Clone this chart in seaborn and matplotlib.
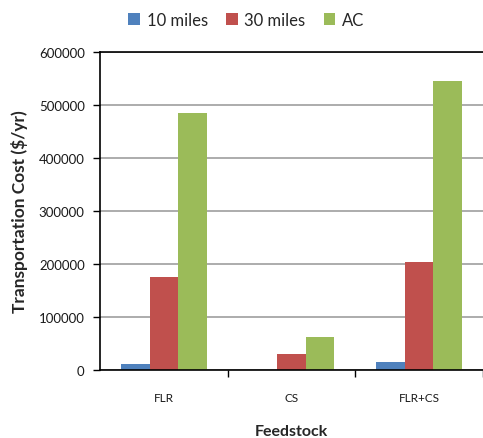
import matplotlib
matplotlib.use("Agg")
import matplotlib.pyplot as plt
from matplotlib.patches import Patch
import seaborn as sns
import pandas as pd

# Annual transportation cost by feedstock and haul scenario
feedstocks = ["FLR", "CS", "FLR+CS"]
series = ["10 miles", "30 miles", "AC"]
cost_10_miles = [11000, 0, 15000]
cost_30_miles = [175000, 31000, 204000]
cost_ac = [485000, 63000, 545000]
colors = ["#4f81bd", "#c0504d", "#9bbb59"]
y_ticks = [0, 100000, 200000, 300000, 400000, 500000, 600000]

rows = []
for name, vals in zip(series, [cost_10_miles, cost_30_miles, cost_ac]):
    for f, v in zip(feedstocks, vals):
        rows.append({"Feedstock": f, "Scenario": name, "Cost": v})
df = pd.DataFrame(rows)

sns.set_theme(style="white")
plt.rcParams["font.family"] = ["Lato", "DejaVu Sans"]

fig = plt.figure(figsize=(4.83, 4.39), dpi=100)
ax = fig.add_axes([100 / 483, 1 - 371 / 439, 1 - 100 / 483, (371 - 53) / 439])

sns.barplot(data=df, x="Feedstock", y="Cost", hue="Scenario", order=feedstocks,
            hue_order=series, palette=colors, saturation=1, width=0.67,
            linewidth=0, errorbar=None, legend=False, ax=ax)

ax.set_ylim(0, 600000)
ax.set_xlim(-0.5, 2.5)
ax.set_yticks(y_ticks)
ax.set_yticklabels([str(t) for t in y_ticks], fontsize=9.5, color="#1a1a1a")
ax.yaxis.grid(True, color="#a6a6a6", linewidth=1.3)
ax.set_axisbelow(True)

ax.set_xticks([0, 1, 2])
ax.set_xticklabels(feedstocks, fontsize=8.5, color="#1a1a1a")
ax.set_xticks([0.5, 1.5, 2.5], minor=True)
ax.tick_params(axis="x", which="major", length=0, pad=16)
ax.tick_params(axis="x", which="minor", length=5, width=1, color="black", direction="out", bottom=True)
ax.tick_params(axis="y", length=5, width=1, color="black", direction="out", left=True, pad=6)

for side in ["left", "bottom", "top"]:
    ax.spines[side].set_color("black")
    ax.spines[side].set_linewidth(1.2)
ax.spines["right"].set_visible(False)

ax.set_xlabel("Feedstock", fontsize=11.5, fontweight="bold", labelpad=15)
ax.set_ylabel("Transportation Cost ($/yr)", fontsize=12.5, fontweight="bold", labelpad=8)

handles = [Patch(facecolor=c, edgecolor="none", label=s) for c, s in zip(colors, series)]
fig.legend(handles=handles, loc="center", bbox_to_anchor=(0.51, 0.952), ncol=3,
           frameon=False, fontsize=12, handlelength=0.7, handleheight=0.7,
           handletextpad=0.4, columnspacing=1.1)

fig.savefig("out.png", dpi=100)
